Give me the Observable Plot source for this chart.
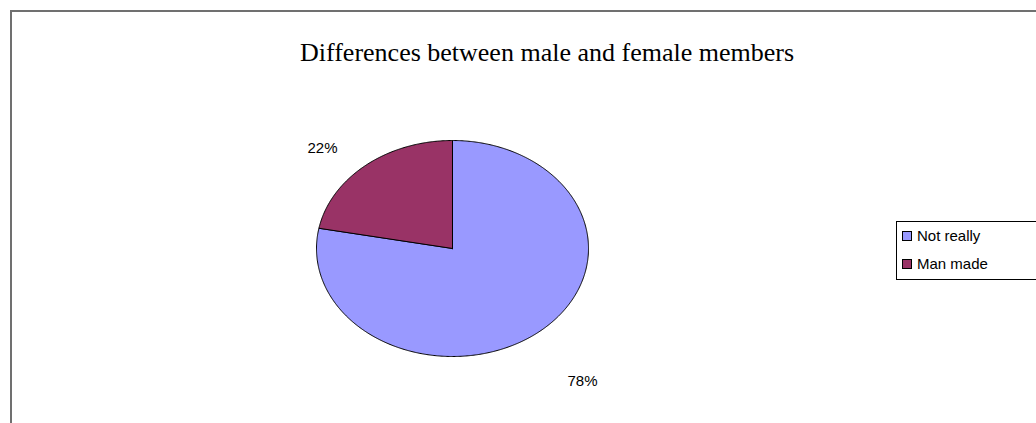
<!DOCTYPE html>
<html><head><meta charset="utf-8">
<script src="https://cdn.jsdelivr.net/npm/d3@7"></script>
<script src="https://cdn.jsdelivr.net/npm/@observablehq/plot@0.6"></script>
<style>
body{margin:0;background:#fff;width:1036px;height:423px;overflow:hidden;position:relative;}
#frame{position:absolute;left:10px;top:10px;width:1100px;height:500px;border-left:2px solid #707070;border-top:2px solid #707070;}
#title{position:absolute;left:0;width:1094px;top:40px;text-align:center;font-family:"Liberation Serif","Times New Roman",serif;font-size:26px;line-height:26px;color:#000;white-space:nowrap;}
#chart{position:absolute;left:0;top:0;}
#legend{position:absolute;left:896px;top:221px;width:140px;height:57px;border:1px solid #000;background:#fff;font-family:"Liberation Sans",Arial,sans-serif;font-size:15px;color:#000;}
.item{position:absolute;left:5px;display:flex;align-items:center;white-space:nowrap;}
.sw{width:8px;height:8px;border:1px solid #000;margin-right:5px;}
</style>
</head><body>
<div id="frame"></div>
<div id="title">Differences between male and female members</div>
<div id="chart"></div>
<div id="legend"></div>
<script>
const categories = ["Not really", "Man made"];
const values = [78, 22];
const colors = ["#9999ff", "#993366"];
const labels = ["78%", "22%"];

const arcs = d3.pie().sort(null).value(d => d)(values);
const slicePts = arcs.map((a) => {
  const pts = [{x: 0, y: 0}];
  const n = Math.max(2, Math.ceil((a.endAngle - a.startAngle) / (Math.PI / 360)));
  for (let k = 0; k <= n; k++) {
    const t = a.startAngle + (a.endAngle - a.startAngle) * k / n;
    pts.push({x: Math.sin(t), y: Math.cos(t)});
  }
  pts.push({x: 0, y: 0});
  return pts;
});
const labelData = arcs.map((a, i) => {
  const m = (a.startAngle + a.endAngle) / 2;
  return {x: 1.5 * Math.sin(m), y: 1.4 * Math.cos(m), text: labels[i]};
});

const marks = slicePts.map((pts, i) => Plot.line(pts, {x: "x", y: "y", fill: colors[i], stroke: "#000", strokeWidth: 1, curve: "linear-closed"}));
marks.push(Plot.text(labelData, {x: "x", y: "y", text: "text", dy: 16, fontSize: 15, fill: "#000", fontFamily: "Liberation Sans, Arial, sans-serif"}));

const chart = Plot.plot({
  width: 1036, height: 423,
  margin: 0,
  x: {domain: [-1, 1], range: [316, 588], axis: null},
  y: {domain: [-1, 1], range: [356, 140], axis: null},
  marks
});
document.getElementById("chart").appendChild(chart);

const leg = document.getElementById("legend");
categories.forEach((c, i) => {
  const it = document.createElement("div");
  it.className = "item";
  it.style.top = (5 + i * 28) + "px";
  it.innerHTML = `<span class="sw" style="background:${colors[i]}"></span><span>${c}</span>`;
  leg.appendChild(it);
});
</script>
</body></html>
